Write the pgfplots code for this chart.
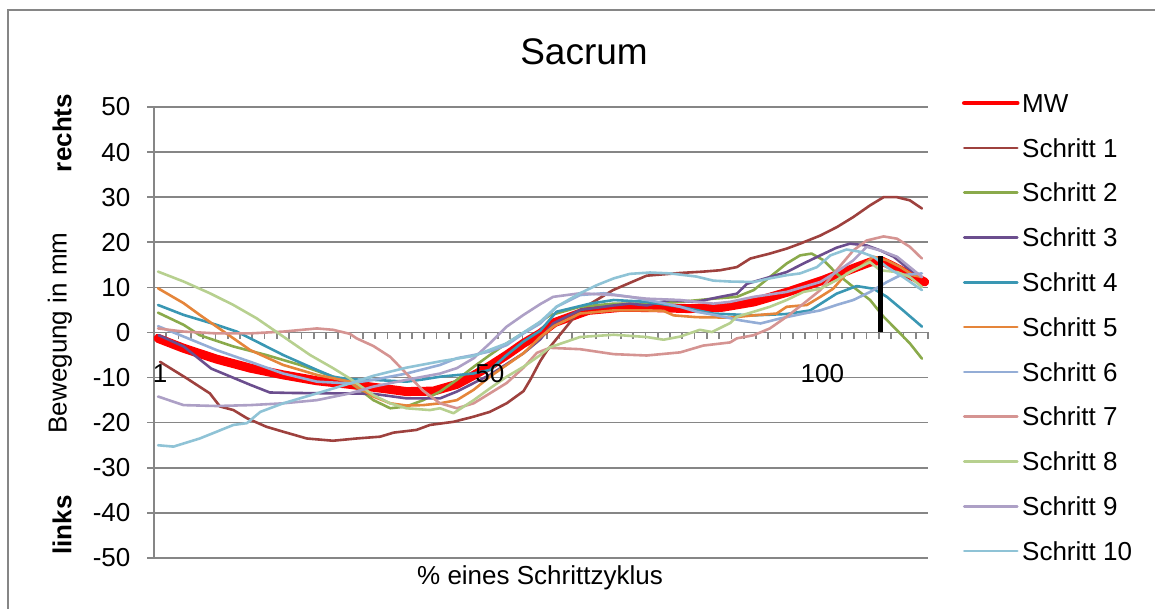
\documentclass[border=0pt]{standalone}
\usepackage{fontspec}
\setmainfont{Liberation Sans}
\usepackage{pgfplots}
\pgfplotsset{compat=1.18}

\definecolor{gridgray}{RGB}{134,134,134}
\definecolor{mw}{RGB}{255,0,0}
\definecolor{s1}{RGB}{158,65,62}
\definecolor{s2}{RGB}{138,170,75}
\definecolor{s3}{RGB}{107,78,142}
\definecolor{s4}{RGB}{58,151,179}
\definecolor{s5}{RGB}{229,133,58}
\definecolor{s6}{RGB}{148,173,214}
\definecolor{s7}{RGB}{213,148,146}
\definecolor{s8}{RGB}{183,208,143}
\definecolor{s9}{RGB}{173,160,198}
\definecolor{s10}{RGB}{143,195,214}

\begin{document}
\begin{tikzpicture}
\begin{scope}[x=0.5pt,y=0.5pt]
\useasboundingbox (0,0) rectangle (1155,609);
% chart frame
\draw[gridgray, line width=0.8pt] (8,-5) -- (8,599) -- (1160,599);
% title and outer labels
\node[font=\fontsize{18.5}{22}\selectfont] at (584,557) {Sacrum};
\node[font=\fontsize{13}{15}\selectfont, rotate=90] at (60,276) {Bewegung in mm};
\node[font=\fontsize{13}{15}\selectfont\bfseries, rotate=90] at (62,476) {rechts};
\node[font=\fontsize{13}{15}\selectfont\bfseries, rotate=90] at (62,84) {links};
\node[font=\fontsize{13}{15}\selectfont] at (540,31) {\% eines Schrittzyklus};
\end{scope}

\begin{axis}[
  at={(77pt,25.5pt)}, anchor=south west,
  scale only axis, width=387pt, height=225.5pt,
  xmin=0.5, xmax=115.5, ymin=-50, ymax=50,
  axis y line=left, axis x line=middle,
  axis line style={gridgray, line width=0.8pt, -},
  ytick={-50,-40,...,50},
  xtick={0.5,2.3254,...,115.6},
  xticklabels={},
  ymajorgrids,
  grid style={gridgray, line width=0.8pt},
  tick align=outside,
  major tick length=3.3pt,
  tick style={gridgray, line width=0.8pt},
  yticklabel style={font=\fontsize{13}{15}\selectfont, xshift=-5pt},
  /pgf/number format/assume math mode=true,
  clip=false,
  legend style={
    at={(axis description cs:1.0439,1.0585)}, anchor=north west,
    draw=none, fill=none, inner sep=0pt, outer sep=0pt,
    font=\fontsize{13}{15}\selectfont,
    row sep=0pt, column sep=1.3pt,
    nodes={inner sep=0pt, text height=15.85pt, text depth=6.55pt},
  },
  legend cell align=left,
  legend image code/.code={\draw[#1] (0pt,0pt) -- (26.5pt,0pt);},
  every axis plot/.append style={line join=round, line cap=round},
]

% mean curve
\addplot[mw, line width=4.5pt, forget plot] coordinates {
(1.1,-1.3) (4.9,-3.5) (9.8,-5.9) (14.8,-7.9) (19.7,-9.4) (24.7,-10.7)
(29.6,-11.5) (35,-12.5) (38,-13.1) (42,-13.0) (45.5,-11.5) (48,-9.5)
(50.4,-7.4) (52.9,-5.0) (55.4,-2.4) (57.9,-0.2) (60,2.2) (65,4.9)
(70,5.6) (75,5.5) (80,5.3) (85,5.6) (89.7,6.8) (94.7,9.0) (99.9,11.6)
(104.9,14.5) (106.9,15.6) (108.4,16.0) (110,14.9) (112.3,13.1) (115,11.2)
};
\addlegendimage{mw, line width=2.3pt}
\addlegendentry{MW}

\addplot[s1, line width=1.3pt] coordinates {
(1.4,-6.5) (5.4,-10.2) (8.8,-13.5) (10.3,-16.4) (12.3,-17.2) (14.3,-19.0)
(17.2,-20.9) (19.7,-22.0) (23.2,-23.5) (27.1,-24.0) (30.6,-23.5) (34.1,-23.1)
(36.1,-22.2) (39.5,-21.6) (41.5,-20.5) (45,-19.8) (47.9,-18.7) (50.4,-17.6)
(52.9,-15.7) (55.4,-13.0) (56.4,-10.5) (57.9,-6.3) (58.9,-4.0) (61.3,0.4)
(63.8,5.0) (68.7,9.4) (73.7,12.6) (78.7,13.2) (82.1,13.5) (84.6,13.8)
(87.1,14.5) (89.1,16.4) (92,17.5) (94.5,18.6) (96.5,19.7) (99.5,21.5)
(102,23.4) (104.4,25.6) (106.9,28.2) (108.9,30.0) (110.9,30.0) (112.8,29.3)
(114.6,27.5)
};
\addlegendentry{Schritt 1}

\addplot[s2, line width=1.3pt] coordinates {
(1.1,4.4) (4.9,1.7) (7.3,-0.6) (12.3,-3.1) (17.2,-5.0) (22.2,-7.2)
(27.1,-9.8) (29.6,-11.0) (31.1,-12.7) (33.1,-15.0) (35.6,-16.8) (38,-16.4)
(40.5,-15.0) (43,-13.1) (45.5,-10.5) (48,-7.6) (50.4,-5.0) (52.9,-2.4)
(56.9,1.3) (59.3,3.8) (63.8,5.7) (68.8,6.4) (73.7,6.4) (78.7,6.8)
(83.6,7.5) (87.1,7.9) (89.6,9.4) (92,12.3) (94.5,15.3) (96.5,17.1)
(98.2,17.5) (100,16.0) (101.9,13.1) (104.4,10.1) (106.9,7.2) (108.9,3.5)
(110.9,0.5) (112.8,-2.4) (114.6,-5.8)
};
\addlegendentry{Schritt 2}

\addplot[s3, line width=1.3pt] coordinates {
(1.2,-0.6) (4.9,-3.1) (9,-8.0) (14.8,-11.6) (17.7,-13.3) (20.7,-13.4)
(28.1,-13.5) (33.1,-13.6) (38,-14.6) (43,-14.6) (45.5,-13.1) (50.4,-9.4)
(55.4,-4.6) (57.9,-1.5) (59.8,2.0) (63.8,5.0) (68.8,6.0) (71.2,6.4)
(73.7,6.0) (77.2,7.2) (81.1,6.8) (84.6,7.9) (87.1,8.6) (88.6,10.8)
(92,12.3) (94.5,13.4) (97,15.3) (99.5,17.1) (101.9,18.8) (103.9,19.7)
(106.4,19.3) (108.4,18.2) (110.4,16.8) (112.3,14.5) (114.6,12.3)
};
\addlegendentry{Schritt 3}

\addplot[s4, line width=1.3pt] coordinates {
(1.1,6.1) (4.9,3.9) (9.8,1.7) (12.8,0.2) (14.8,-1.3) (19.7,-5.0)
(24.7,-8.3) (27.1,-9.8) (29.6,-10.4) (33.1,-10.5) (38,-10.9) (40.5,-10.4)
(43,-9.8) (47.9,-9.1) (50.4,-8.3) (52.9,-5.0) (55.4,-2.0) (57.9,0.4)
(60.3,4.6) (65.3,6.4) (68.8,7.2) (73.7,6.8) (78.7,5.7) (83.6,4.2)
(89.6,3.8) (94.5,4.1) (98,4.9) (101.9,8.6) (104.9,10.3) (107.4,9.7)
(109.4,7.9) (111.8,4.9) (114.6,1.3)
};
\addlegendentry{Schritt 4}

\addplot[s5, line width=1.3pt] coordinates {
(1.1,9.8) (4.9,6.5) (7.3,3.9) (9.8,1.3) (12.3,-1.3) (14.8,-3.9)
(19.7,-7.2) (24.7,-9.4) (29.6,-10.9) (30.6,-12.0) (33.1,-14.2) (35.6,-15.7)
(38,-16.2) (40.5,-16.1) (43,-15.7) (45.5,-15.0) (48,-12.7) (50.4,-9.8)
(52.9,-7.2) (55.4,-4.6) (57.9,-1.0) (60,1.5) (63.8,4.2) (68.8,4.9)
(73.7,4.9) (76.2,4.8) (77.7,3.8) (81.1,3.4) (86.1,3.3) (89.6,3.8)
(93,4.2) (94.5,5.7) (97.5,6.1) (99.5,7.9) (101.4,9.7) (103.4,13.1)
(105.4,14.5) (107.4,16.8) (109.4,16.0) (111.4,14.5) (113.3,12.7) (114.6,12.3)
};
\addlegendentry{Schritt 5}

\addplot[s6, line width=1.3pt] coordinates {
(1.1,1.4) (4.9,-0.9) (9.8,-3.9) (14.8,-6.5) (19.7,-9.1) (24.7,-10.9)
(29.6,-11.3) (33.1,-10.5) (38,-9.1) (43,-7.2) (45.5,-5.7) (48,-5.0)
(50.4,-4.2) (52.9,-2.8) (55.4,-0.2) (57.9,2.0) (60.3,5.7) (63.8,8.3)
(67.3,8.7) (71.2,7.9) (75.2,6.8) (78.7,5.7) (81.1,4.6) (84.1,3.8)
(87.6,2.7) (90.6,2.0) (93.5,3.1) (97,4.2) (99.5,4.9) (101.9,6.1)
(104.4,7.2) (106.9,9.0) (109.4,11.2) (111.4,12.7) (114.6,13.1)
};
\addlegendentry{Schritt 6}

\addplot[s7, line width=1.3pt] coordinates {
(1.1,0.9) (4.9,0.2) (9.8,-0.2) (14.8,-0.2) (19.7,0.2) (24.7,0.9)
(27.1,0.6) (29.6,-0.3) (30.6,-1.3) (33.1,-3.0) (35.6,-5.4) (38,-9.1)
(40.5,-12.9) (43,-15.7) (45.5,-16.8) (48,-15.7) (50.4,-13.5) (52.9,-11.2)
(55.4,-7.8) (57.4,-4.5) (59.3,-3.4) (63.8,-3.7) (68.8,-4.8) (73.7,-5.1)
(78.7,-4.4) (82.1,-2.9) (86.1,-2.2) (87.1,-1.3) (89.6,-0.6) (92,0.9)
(94.5,3.5) (97,6.4) (99.5,9.4) (101.9,13.8) (104.4,18.2) (106.4,20.4)
(108.9,21.3) (110.9,20.8) (112.8,19.0) (114.6,16.4)
};
\addlegendentry{Schritt 7}

\addplot[s8, line width=1.3pt] coordinates {
(1.1,13.5) (4.9,11.3) (8.8,8.7) (12.3,6.1) (15.8,3.1) (19.7,-0.9)
(23.7,-5.0) (27.1,-7.9) (29.6,-10.2) (33.1,-13.9) (35.6,-15.7) (38,-16.8)
(41.5,-17.2) (43,-16.8) (45,-17.9) (48,-15.0) (50.4,-12.4) (52.9,-9.8)
(55.4,-7.6) (57.9,-5.0) (59.3,-3.3) (63.8,-1.0) (68.8,-0.5) (73.7,-1.0)
(76.2,-1.6) (78.7,-0.9) (81.6,0.6) (83.4,0.1) (86.1,2.1) (87.1,3.5)
(89.6,4.6) (92,5.7) (94.5,7.2) (97,9.0) (99.5,9.7) (101.9,11.6)
(104.4,13.8) (106.9,15.6) (108.4,13.8) (110.9,13.4) (112.8,12.3) (114.6,10.1)
};
\addlegendentry{Schritt 8}

\addplot[s9, line width=1.3pt] coordinates {
(1.1,-14.2) (4.9,-16.1) (9.8,-16.3) (14.8,-16.1) (19.7,-15.7) (24.7,-15.0)
(29.6,-13.5) (33.1,-12.0) (38,-10.5) (43,-9.1) (45.5,-7.9) (48,-5.7)
(50.4,-2.4) (52.9,1.3) (55.4,3.9) (57.9,6.3) (59.8,7.9) (63.8,8.7)
(68.8,8.3) (73.7,7.5) (78.7,7.2) (83.6,6.4) (86.1,6.8) (89.6,7.9)
(94.5,9.0) (99.5,11.2) (101.9,13.4) (104.4,16.0) (106.4,19.0) (108.4,18.2)
(110.9,16.8) (112.8,14.5) (114.6,12.3)
};
\addlegendentry{Schritt 9}

\addplot[s10, line width=1.3pt] coordinates {
(1.1,-25.0) (3.4,-25.3) (7.3,-23.5) (12.3,-20.5) (14.3,-20.1) (16.3,-17.6)
(19.7,-15.7) (24.7,-13.5) (29.6,-11.3) (33.1,-9.6) (38,-7.8) (43,-6.4)
(48,-5.2) (52.9,-2.4) (57.9,2.4) (60.3,5.7) (63.8,8.7) (66.3,10.5)
(68.8,12.0) (71.2,13.0) (74.2,13.3) (77.2,13.1) (81.1,12.4) (83.6,11.5)
(86.1,11.3) (89.6,11.2) (92,12.0) (94.5,12.7) (96.5,13.1) (99,14.5)
(101,17.1) (103.4,18.4) (105.4,17.9) (107.4,16.8) (109.4,14.5) (111.8,12.3)
(114.6,9.4)
};
\addlegendentry{Schritt 10}

% marker bar at the peak of the mean
\addplot[black, line width=2.5pt, line cap=butt, forget plot] coordinates {(108.4,0) (108.4,16.9)};

% category labels below the zero line
\node[font=\fontsize{13}{15}\selectfont] at (axis cs:1.4,-9) {1};
\node[font=\fontsize{13}{15}\selectfont] at (axis cs:50.4,-9) {50};
\node[font=\fontsize{13}{15}\selectfont] at (axis cs:99.8,-9) {100};
\end{axis}
\end{tikzpicture}
\end{document}
